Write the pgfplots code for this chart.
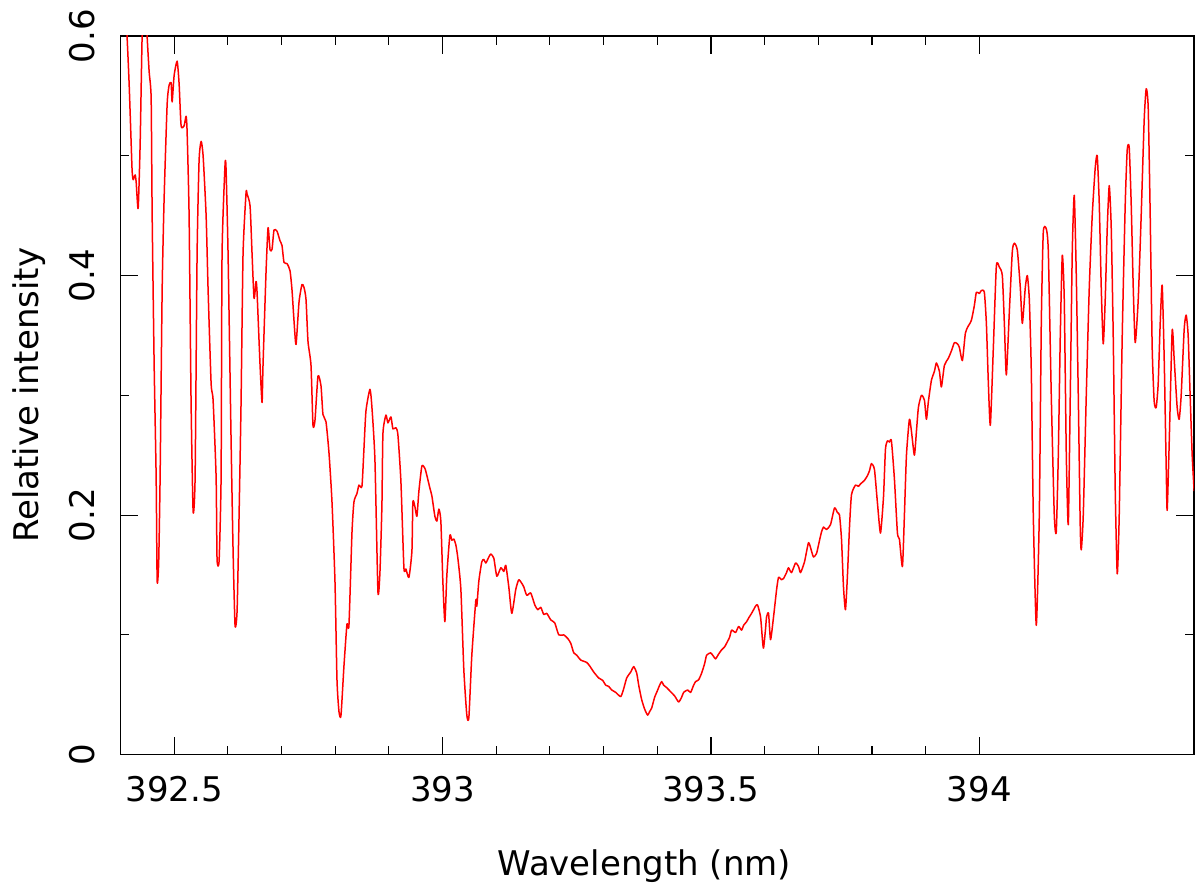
\documentclass[border=0pt]{standalone}
\usepackage{pgfplots}
\pgfplotsset{compat=1.18}
\usepackage{fontspec}
\setmainfont{DejaVu Sans}
\begin{document}
\begin{tikzpicture}[font=\fontsize{17}{20}\selectfont]
\begin{axis}[
  name=ax,
  scale only axis,
  width=537pt, height=359.5pt,
  xmin=392.4, xmax=394.4,
  ymin=0, ymax=0.6,
  xtick={392.5,393,393.5,394},
  ytick={0,0.2,0.4,0.6},
  minor x tick num=4,
  minor y tick num=1,
  tick align=inside,
  xtick pos=both, ytick pos=both,
  major tick length=9pt,
  minor tick length=4.5pt,
  axis line style={line width=0.7pt},
  every tick/.style={black, line width=0.6pt},
  /pgf/number format/assume math mode=true,
  /pgf/number format/fixed,
  xticklabel style={anchor=base},
  xticklabel shift=23.5pt,
  yticklabel style={rotate=90, anchor=base},
  yticklabel shift=13pt,
  xlabel={Wavelength (nm)},
  ylabel={Relative intensity},
  xlabel style={at={(axis description cs:0.488,-0.1683)}, anchor=base},
  ylabel style={at={(axis description cs:-0.0765,0.5)}, rotate=0, anchor=base},
]
\addplot[red, line width=0.75pt, line join=round, smooth, tension=0.35] coordinates {
(392.4088,0.63) (392.4125,0.598) (392.4162,0.56) (392.4200,0.51) (392.4218,0.487)
(392.4237,0.48) (392.4274,0.484) (392.4293,0.478) (392.4330,0.456) (392.4367,0.51)
(392.4404,0.60) (392.4442,0.64) (392.4479,0.63) (392.4497,0.60) (392.4535,0.57)
(392.4572,0.548) (392.4591,0.45) (392.4628,0.325) (392.4665,0.232) (392.4684,0.145)
(392.4712,0.16) (392.4739,0.232) (392.4777,0.388) (392.4814,0.465) (392.4870,0.543)
(392.4907,0.559) (392.4944,0.561) (392.4963,0.545) (392.5000,0.567) (392.5056,0.579)
(392.5093,0.56) (392.5130,0.525) (392.5186,0.525) (392.5223,0.533) (392.5242,0.52)
(392.5279,0.45) (392.5316,0.294) (392.5354,0.203) (392.5391,0.232) (392.5428,0.418)
(392.5465,0.496) (392.5503,0.512) (392.5540,0.50) (392.5596,0.45) (392.5633,0.388)
(392.5689,0.31) (392.5726,0.296) (392.5782,0.232) (392.5800,0.163) (392.5838,0.162)
(392.5875,0.232) (392.5893,0.418) (392.5949,0.493) (392.5968,0.488) (392.6005,0.418)
(392.6061,0.263) (392.6098,0.171) (392.6135,0.108) (392.6173,0.12) (392.6210,0.20)
(392.6247,0.294) (392.6284,0.418) (392.6340,0.469) (392.6359,0.468) (392.6415,0.458)
(392.6452,0.418) (392.6489,0.381) (392.6526,0.395) (392.6545,0.386) (392.6601,0.325)
(392.6638,0.294) (392.6656,0.325) (392.6712,0.4025) (392.6750,0.44) (392.6787,0.4215)
(392.6824,0.422) (392.6861,0.438) (392.6917,0.437) (392.6973,0.429) (392.7010,0.425)
(392.7047,0.411) (392.7103,0.410) (392.7159,0.404) (392.7196,0.388) (392.7233,0.3625)
(392.7271,0.3425) (392.7327,0.378) (392.7382,0.3925) (392.7420,0.39) (392.7457,0.38)
(392.7494,0.345) (392.7550,0.325) (392.7587,0.275) (392.7624,0.279) (392.7680,0.316)
(392.7736,0.308) (392.7773,0.284) (392.7829,0.278) (392.7885,0.252) (392.7941,0.211)
(392.7997,0.144) (392.8034,0.0625) (392.8071,0.036) (392.8108,0.0325) (392.8164,0.074)
(392.8220,0.109) (392.8257,0.108) (392.8313,0.185) (392.8350,0.211) (392.8406,0.218)
(392.8443,0.225) (392.8499,0.224) (392.8536,0.255) (392.8574,0.287) (392.8648,0.305)
(392.8685,0.29) (392.8741,0.246) (392.8797,0.136) (392.8834,0.152) (392.8871,0.208)
(392.8890,0.268) (392.8946,0.2835) (392.8983,0.277) (392.9039,0.282) (392.9076,0.272)
(392.9132,0.273) (392.9169,0.267) (392.9225,0.228) (392.9281,0.156) (392.9318,0.155)
(392.9374,0.148) (392.9430,0.17) (392.9448,0.211) (392.9486,0.207) (392.9523,0.199)
(392.9560,0.22) (392.9616,0.241) (392.9672,0.239) (392.9709,0.233) (392.9765,0.2225)
(392.9802,0.216) (392.9858,0.199) (392.9895,0.195) (392.9932,0.205) (392.9969,0.195)
(393.0007,0.144) (393.0044,0.111) (393.0081,0.15) (393.0137,0.183) (393.0174,0.179)
(393.0211,0.18) (393.0249,0.175) (393.0286,0.164) (393.0342,0.138) (393.0397,0.071)
(393.0453,0.033) (393.0491,0.031) (393.0546,0.083) (393.0621,0.129) (393.0639,0.124)
(393.0677,0.145) (393.0732,0.161) (393.0770,0.163) (393.0807,0.16) (393.0863,0.165)
(393.0900,0.1675) (393.0956,0.164) (393.1012,0.149) (393.1086,0.156) (393.1142,0.153)
(393.1179,0.158) (393.1235,0.14) (393.1291,0.118) (393.1365,0.138) (393.1421,0.146)
(393.1477,0.143) (393.1514,0.14) (393.1570,0.133) (393.1644,0.135) (393.1719,0.125)
(393.1775,0.121) (393.1831,0.123) (393.1886,0.117) (393.1942,0.118) (393.2017,0.1125)
(393.2091,0.11) (393.2166,0.10) (393.2259,0.10) (393.2333,0.097) (393.2389,0.093)
(393.2445,0.085) (393.2501,0.083) (393.2575,0.079) (393.2687,0.077) (393.2743,0.074)
(393.2817,0.069) (393.2910,0.064) (393.2985,0.062) (393.3040,0.058) (393.3096,0.057)
(393.3152,0.054) (393.3227,0.052) (393.3320,0.0485) (393.3375,0.055) (393.3431,0.064)
(393.3506,0.069) (393.3562,0.0735) (393.3618,0.068) (393.3655,0.058) (393.3710,0.046)
(393.3766,0.038) (393.3822,0.033) (393.3859,0.036) (393.3897,0.039) (393.3952,0.048)
(393.3990,0.052) (393.4045,0.058) (393.4083,0.061) (393.4120,0.058) (393.4176,0.056)
(393.4250,0.0525) (393.4325,0.049) (393.4399,0.044) (393.4455,0.048) (393.4492,0.052)
(393.4567,0.054) (393.4622,0.052) (393.4678,0.058) (393.4715,0.061) (393.4771,0.0625)
(393.4827,0.068) (393.4883,0.076) (393.4920,0.083) (393.4995,0.085) (393.5050,0.082)
(393.5088,0.08) (393.5144,0.084) (393.5199,0.0875) (393.5255,0.09) (393.5292,0.093)
(393.5348,0.098) (393.5386,0.104) (393.5460,0.102) (393.5516,0.107) (393.5572,0.104)
(393.5609,0.108) (393.5665,0.111) (393.5702,0.114) (393.5758,0.118) (393.5795,0.121)
(393.5832,0.124) (393.5869,0.125) (393.5925,0.115) (393.5962,0.095) (393.5981,0.089)
(393.6018,0.105) (393.6037,0.115) (393.6074,0.118) (393.6111,0.096) (393.6167,0.115)
(393.6223,0.1375) (393.6260,0.148) (393.6316,0.146) (393.6353,0.147) (393.6409,0.152)
(393.6446,0.156) (393.6502,0.152) (393.6577,0.16) (393.6633,0.157) (393.6670,0.152)
(393.6744,0.161) (393.6819,0.177) (393.6874,0.17) (393.6912,0.165) (393.6968,0.168)
(393.7024,0.179) (393.7061,0.186) (393.7098,0.19) (393.7154,0.188) (393.7228,0.192)
(393.7303,0.206) (393.7358,0.202) (393.7396,0.20) (393.7433,0.18) (393.7470,0.14)
(393.7507,0.121) (393.7544,0.15) (393.7582,0.19) (393.7619,0.217) (393.7693,0.225)
(393.7749,0.224) (393.7786,0.226) (393.7861,0.229) (393.7917,0.233) (393.7954,0.237)
(393.7991,0.243) (393.8047,0.238) (393.8103,0.21) (393.8159,0.185) (393.8215,0.215)
(393.8252,0.255) (393.8289,0.262) (393.8326,0.261) (393.8363,0.262) (393.8419,0.23)
(393.8475,0.185) (393.8512,0.18) (393.8568,0.157) (393.8605,0.20) (393.8643,0.25)
(393.8698,0.28) (393.8736,0.27) (393.8791,0.25) (393.8829,0.27) (393.8866,0.29)
(393.8922,0.30) (393.8978,0.296) (393.9015,0.28) (393.9052,0.295) (393.9108,0.3125)
(393.9164,0.32) (393.9201,0.327) (393.9257,0.32) (393.9294,0.307) (393.9350,0.325)
(393.9424,0.331) (393.9480,0.337) (393.9536,0.344) (393.9592,0.343) (393.9629,0.34)
(393.9685,0.329) (393.9741,0.352) (393.9797,0.358) (393.9852,0.3625) (393.9908,0.375)
(393.9945,0.386) (394.0001,0.385) (394.0038,0.3875) (394.0094,0.386) (394.0132,0.36)
(394.0169,0.31) (394.0206,0.275) (394.0262,0.34) (394.0318,0.408) (394.0374,0.407)
(394.0429,0.40) (394.0467,0.36) (394.0504,0.317) (394.0560,0.37) (394.0615,0.42)
(394.0653,0.427) (394.0709,0.421) (394.0764,0.39) (394.0802,0.36) (394.0857,0.39)
(394.0895,0.40) (394.0932,0.38) (394.0969,0.32) (394.1006,0.20) (394.1062,0.108)
(394.1118,0.20) (394.1155,0.36) (394.1192,0.436) (394.1248,0.439) (394.1286,0.42)
(394.1341,0.30) (394.1397,0.20) (394.1434,0.186) (394.1472,0.25) (394.1509,0.35)
(394.1546,0.417) (394.1583,0.38) (394.1621,0.25) (394.1658,0.192) (394.1695,0.30)
(394.1732,0.42) (394.1769,0.467) (394.1807,0.40) (394.1844,0.30) (394.1881,0.19)
(394.1900,0.171) (394.1937,0.20) (394.1993,0.30) (394.2049,0.39) (394.2104,0.45)
(394.2160,0.49) (394.2197,0.50) (394.2235,0.46) (394.2272,0.39) (394.2309,0.343)
(394.2346,0.38) (394.2384,0.44) (394.2421,0.475) (394.2458,0.44) (394.2495,0.35)
(394.2533,0.22) (394.2570,0.151) (394.2607,0.20) (394.2663,0.35) (394.2719,0.46)
(394.2756,0.505) (394.2793,0.507) (394.2830,0.46) (394.2868,0.39) (394.2905,0.344)
(394.2961,0.38) (394.3016,0.45) (394.3072,0.53) (394.3110,0.556) (394.3147,0.54)
(394.3184,0.45) (394.3221,0.34) (394.3258,0.295) (394.3296,0.29) (394.3333,0.31)
(394.3370,0.36) (394.3407,0.392) (394.3445,0.33) (394.3482,0.24) (394.3500,0.204)
(394.3538,0.26) (394.3593,0.354) (394.3631,0.33) (394.3686,0.29) (394.3724,0.28)
(394.3761,0.30) (394.3817,0.355) (394.3854,0.367) (394.3891,0.35) (394.3928,0.30)
(394.3966,0.25) (394.4003,0.22)
};
\end{axis}
\pgfresetboundingbox
\path ([xshift=-60.25pt,yshift=-67.5pt]ax.south west) rectangle ([xshift=3pt,yshift=18pt]ax.north east);
\end{tikzpicture}
\end{document}
